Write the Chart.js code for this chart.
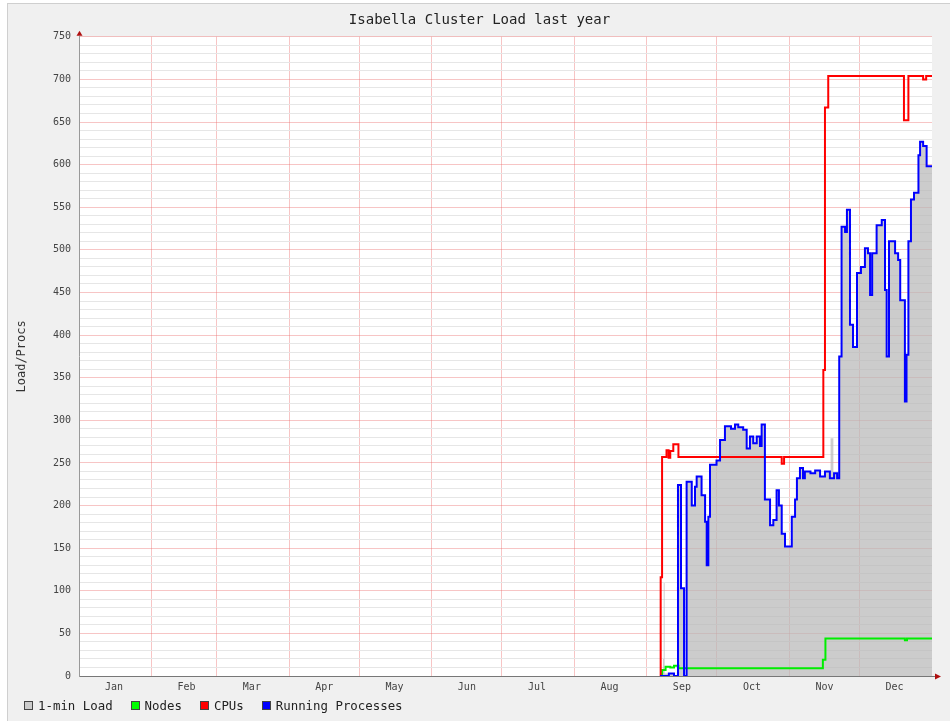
<!DOCTYPE html>
<html>
<head>
<meta charset="utf-8">
<title>Isabella Cluster Load last year</title>
<script src="https://cdn.jsdelivr.net/npm/chart.js@4"></script>
<style>
  html, body { margin: 0; padding: 0; background: #fff; }
  #panel {
    position: absolute; left: 7px; top: 3px; width: 942px; height: 718px;
    background: #f0f0f0; border-left: 1px solid #cfcfcf; border-top: 1px solid #cfcfcf;
  }
  #wrap { position: absolute; left: 0; top: 0; width: 952px; height: 721px; }
  #legend {
    position: absolute; left: 24px; top: 698px; display: flex; align-items: center;
    font-family: 'DejaVu Sans Mono', monospace; font-size: 12.4px; color: #222;
  }
  #legend .item { display: flex; align-items: center; margin-right: 18px; }
  #legend .box { width: 7px; height: 7px; border: 1px solid #444; margin-right: 5px; }
</style>
</head>
<body>
<div id="panel"></div>
<div id="wrap"><canvas id="load" width="952" height="721"></canvas></div>
<div id="legend"></div>
<script>
// x values are day of year (0 = Jan 1), y values are load / counts
const monthLabels = ["Jan", "Feb", "Mar", "Apr", "May", "Jun", "Jul", "Aug", "Sep", "Oct", "Nov", "Dec"];
const monthStarts = [0, 31, 59, 90, 120, 151, 181, 212, 243, 273, 304, 334];
const yearDays = 365;
const yMax = 750;

const runningProcs = [
  [248.6, 0], [252.4, 3], [254.6, 0], [256.3, 224], [257.6, 103], [258.9, 0],
  [260.0, 228], [262.2, 200], [263.6, 222], [264.3, 234], [266.4, 212], [267.9, 181],
  [268.6, 130], [269.3, 187], [270.0, 248], [272.8, 253], [274.3, 277], [276.4, 293],
  [279.0, 290], [280.7, 295], [282.1, 292], [284.2, 289], [285.7, 267], [287.1, 281],
  [288.5, 273], [290.0, 281], [291.4, 270], [292.1, 295], [293.5, 207], [295.7, 177],
  [297.1, 183], [298.5, 218], [299.5, 200], [300.7, 167], [302.1, 152], [305.0, 187],
  [306.4, 207], [307.2, 232], [308.5, 244], [309.8, 232], [310.6, 240], [313.0, 238],
  [315.0, 241], [317.1, 234], [319.2, 240], [321.3, 232], [323.1, 238], [324.4, 232],
  [325.3, 375], [326.3, 527], [327.8, 521], [328.6, 547], [329.9, 412], [331.2, 386],
  [332.9, 473], [334.6, 480], [336.3, 502], [337.6, 496], [338.5, 447], [339.4, 496],
  [341.3, 529], [343.5, 535], [344.9, 453], [345.6, 375], [346.6, 510], [349.2, 496],
  [350.5, 488], [351.4, 441], [353.4, 322], [354.1, 377], [354.9, 510], [356.0, 559],
  [357.3, 567], [359.2, 611], [359.9, 627], [361.2, 622], [362.7, 598], [365.0, 598]
];

const loadOneMin = [
  [248.6, 0], [249.9, 20], [250.2, 109], [250.6, 3], [254.6, 0], [256.3, 224], [257.6, 103],
  [258.9, 0], [260.0, 228], [262.2, 200], [263.6, 222], [264.3, 234], [266.4, 212],
  [267.9, 181], [268.6, 130], [269.3, 187], [270.0, 248], [272.8, 253], [274.3, 277],
  [276.4, 293], [279.0, 290], [280.7, 295], [282.1, 292], [284.2, 289], [285.7, 267],
  [287.1, 281], [288.5, 273], [290.0, 281], [291.4, 270], [292.1, 295], [293.5, 207],
  [295.7, 177], [297.1, 183], [298.5, 218], [299.5, 200], [300.7, 167], [302.1, 152],
  [305.0, 187], [306.4, 207], [307.2, 232], [308.5, 244], [309.8, 232], [310.6, 240],
  [313.0, 238], [315.0, 241], [317.1, 234], [319.2, 240], [321.3, 232], [321.6, 279],
  [322.8, 238], [324.4, 232], [325.3, 375], [326.3, 527], [327.8, 521], [328.6, 547],
  [329.9, 412], [331.2, 386], [332.9, 473], [334.6, 480], [336.3, 502], [337.6, 496],
  [338.5, 447], [339.4, 496], [341.3, 529], [343.5, 535], [344.9, 453], [345.6, 375],
  [346.6, 510], [349.2, 496], [350.5, 488], [351.4, 441], [353.4, 322], [354.1, 377],
  [354.9, 510], [356.0, 559], [357.3, 567], [359.2, 611], [359.9, 627], [361.2, 622],
  [362.7, 598], [365.0, 598]
];

const cpus = [
  [248.6, 0], [248.9, 116], [249.5, 257], [251.4, 265], [252.3, 256], [253.0, 264],
  [254.3, 272], [256.5, 257], [300.7, 249], [301.7, 257], [318.5, 359], [319.2, 667],
  [320.6, 704], [353.0, 652], [354.9, 704], [361.2, 700], [362.5, 704], [365.0, 704]
];

const nodes = [
  [248.6, 0], [249.5, 7], [251.0, 11], [253.0, 10], [254.6, 12], [256.5, 9],
  [318.3, 19], [319.4, 44], [353.4, 42], [354.3, 44], [365.0, 44]
];

const legendFills = ["#cccccc", "#00ff00", "#ff0000", "#0000ff"];

const toPoints = pairs => pairs.map(p => ({ x: p[0], y: p[1] }));
const mono = "'DejaVu Sans Mono', monospace";

// white plot background + rrd style arrow heads
const plotDecor = {
  id: "plotDecor",
  beforeDraw(chart) {
    const { ctx, chartArea: a } = chart;
    ctx.save();
    ctx.fillStyle = "#ffffff";
    ctx.fillRect(a.left, a.top, a.right - a.left, a.bottom - a.top);
    ctx.restore();
  },
  afterDraw(chart) {
    const { ctx, chartArea: a } = chart;
    ctx.save();
    ctx.strokeStyle = "#777";
    ctx.beginPath();
    ctx.moveTo(a.right, a.bottom + 0.5);
    ctx.lineTo(a.right + 4, a.bottom + 0.5);
    ctx.stroke();
    ctx.fillStyle = "#b01010";
    ctx.beginPath();
    ctx.moveTo(a.right + 3, a.bottom - 2.5);
    ctx.lineTo(a.right + 9, a.bottom + 0.5);
    ctx.lineTo(a.right + 3, a.bottom + 3.5);
    ctx.fill();
    ctx.beginPath();
    ctx.moveTo(a.left - 2.5, a.top - 1);
    ctx.lineTo(a.left + 0.5, a.top - 6);
    ctx.lineTo(a.left + 3.5, a.top - 1);
    ctx.fill();
    ctx.restore();
  }
};

const ctx = document.getElementById("load").getContext("2d");

const chart = new Chart(ctx, {
  type: "line",
  data: {
    datasets: [{
      label: "1-min Load",
      data: toPoints(loadOneMin),
      stepped: true,
      borderWidth: 0,
      borderColor: "rgba(0,0,0,0)",
      backgroundColor: "rgba(185,185,185,0.72)",
      fill: "origin",
      pointRadius: 0,
      order: 4
    }, {
      label: "Nodes",
      data: toPoints(nodes),
      stepped: true,
      borderWidth: 2,
      borderColor: "#00ee00",
      fill: false,
      pointRadius: 0,
      order: 3
    }, {
      label: "CPUs",
      data: toPoints(cpus),
      stepped: true,
      borderWidth: 2,
      borderColor: "#ff0000",
      fill: false,
      pointRadius: 0,
      order: 2
    }, {
      label: "Running Processes",
      data: toPoints(runningProcs),
      stepped: true,
      borderWidth: 2,
      borderColor: "#0000ff",
      fill: false,
      pointRadius: 0,
      order: 1
    }]
  },
  options: {
    responsive: false,
    animation: false,
    events: [],
    layout: { padding: { left: 7, right: 0, top: 3, bottom: 23 } },
    scales: {
      x: {
        type: "linear",
        min: 0,
        max: yearDays,
        afterBuildTicks: s => { s.ticks = monthStarts.map(v => ({ value: v })); },
        grid: {
          drawTicks: false,
          color: c => (c.tick && c.tick.value === 0) ? "rgba(0,0,0,0)" : "rgba(235,110,110,0.4)"
        },
        border: { color: "#777" },
        ticks: {
          autoSkip: false,
          maxRotation: 0,
          labelOffset: 35,
          padding: 5,
          color: "#444",
          font: { family: mono, size: 10 },
          callback: v => monthLabels[monthStarts.indexOf(v)]
        }
      },
      y: {
        type: "linear",
        min: 0,
        max: yMax,
        afterBuildTicks: s => {
          const t = [];
          for (let v = 0; v <= yMax; v += 10) t.push({ value: v });
          s.ticks = t;
        },
        afterFit: s => { s.width = 72; },
        grid: {
          drawTicks: false,
          color: c => (c.tick && c.tick.value % 50 === 0) ? "rgba(235,110,110,0.4)" : "#e6e6e6"
        },
        border: { color: "#999" },
        ticks: {
          autoSkip: false,
          padding: 8,
          color: "#444",
          font: { family: mono, size: 10 },
          callback: v => (v % 50 === 0 ? v : "")
        },
        title: {
          display: true,
          text: "Load/Procs",
          color: "#333",
          font: { family: mono, size: 12 },
          padding: { top: 8, bottom: 2 }
        }
      },
      yPad: {
        type: "linear",
        position: "right",
        display: true,
        grid: { display: false },
        border: { display: false },
        ticks: { display: false },
        afterFit: s => { s.width = 20; }
      }
    },
    plugins: {
      tooltip: { enabled: false },
      legend: { display: false },
      title: {
        display: true,
        text: "Isabella Cluster Load last year",
        color: "#222",
        font: { family: mono, size: 14, weight: "normal" },
        padding: { top: 9, bottom: 8 }
      }
    }
  },
  plugins: [plotDecor]
});

// html legend in rrd style
const legend = document.getElementById("legend");
chart.data.datasets.forEach((d, i) => {
  const item = document.createElement("div");
  item.className = "item";
  const box = document.createElement("span");
  box.className = "box";
  box.style.background = legendFills[i];
  const txt = document.createElement("span");
  txt.textContent = d.label;
  item.appendChild(box);
  item.appendChild(txt);
  legend.appendChild(item);
});
</script>
</body>
</html>
